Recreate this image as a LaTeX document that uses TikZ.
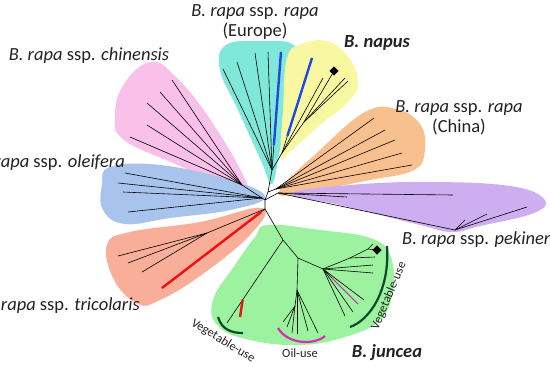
\documentclass[tikz,border=0pt]{standalone}
\usepackage{fontspec}
\setmainfont{Carlito}
\usetikzlibrary{calc}
\definecolor{cladecol1}{HTML}{F9C0E9}
\definecolor{cladecol2}{HTML}{80E8D8}
\definecolor{cladecol3}{HTML}{F8F7A2}
\definecolor{cladecol4}{HTML}{F8C08F}
\definecolor{cladecol5}{HTML}{CDAEF0}
\definecolor{cladecol6}{HTML}{A8C4EC}
\definecolor{cladecol7}{HTML}{F8AE98}
\definecolor{cladecol8}{HTML}{9CF29E}
\definecolor{markblue}{HTML}{2248E0}
\definecolor{markred}{HTML}{F01010}
\definecolor{markpink}{HTML}{D42FB4}
\definecolor{usegreen}{HTML}{0B4A2A}
\definecolor{txt}{HTML}{222222}

\begin{document}
\begin{tikzpicture}[x=1pt,y=-1pt,
  br/.style={line width=.6pt},
  hl/.style={line width=2.4pt},
  arcline/.style={line width=2.2pt},
  lab/.style={text=txt,font=\fontsize{18.5}{19.5}\selectfont,align=center,inner sep=0pt},
  bold/.style={text=txt,font=\fontsize{18.5}{20}\selectfont\bfseries\itshape,inner sep=0pt},
  small/.style={text=txt,font=\fontsize{12.5}{14}\selectfont,inner sep=0pt},
  tipmark/.style={fill=black,rotate=45,minimum size=6.5pt,inner sep=0pt}]
\useasboundingbox (0,0) rectangle (550,367);
\clip (0,0) rectangle (550,367);
% clade shades
\fill[cladecol1] plot[smooth cycle,tension=.7] coordinates {(150,62) (175,76) (212,122) (247,184) (238,193) (180,166) (124,140) (115,115) (124,84)};
\fill[cladecol2] plot[smooth cycle,tension=.7] coordinates {(226,45) (262,41) (292,44) (297,62) (290,105) (280,150) (272,184) (262,163) (238,110) (220,70)};
\fill[cladecol3] plot[smooth cycle,tension=.7] coordinates {(287,58) (302,44) (326,41) (347,55) (358,80) (350,100) (320,125) (292,150) (281,156) (283,110)};
\fill[cladecol4] plot[smooth cycle,tension=.7] coordinates {(279,192) (320,150) (365,112) (396,109) (420,124) (425,150) (414,170) (370,180) (310,191)};
\fill[cladecol5] plot[smooth cycle,tension=.7] coordinates {(290,194) (350,185) (430,182) (510,186) (544,199) (534,213) (480,226) (452,232) (420,225) (340,205)};
\fill[cladecol6] plot[smooth cycle,tension=.7] coordinates {(110,167) (160,165) (230,180) (265,197) (230,210) (170,218) (125,224) (103,210) (102,185)};
\fill[cladecol7] plot[smooth cycle,tension=.7] coordinates {(107,245) (130,232) (200,222) (262,208) (250,235) (200,276) (160,300) (138,304) (114,280)};
\fill[cladecol8] plot[smooth cycle,tension=.7] coordinates {(268,225) (320,230) (370,238) (390,255) (393,290) (380,320) (345,337) (300,345) (250,340) (218,326) (213,300) (235,265) (255,237)};
% tree
\coordinate (rt) at (265,200);
\coordinate (up) at (268,192);
\coordinate (cy) at (272,170);
\coordinate (ye) at (282,153);
\coordinate (ye2) at (304,122);
\coordinate (or) at (276,189);
\coordinate (pu) at (278,193);
\coordinate (pu2) at (347,197);
\coordinate (lf) at (262,198);
\coordinate (pk) at (242,185);
\coordinate (bt) at (265,209);
\coordinate (sa) at (207,233);
\coordinate (g1) at (283,240);
\coordinate (g2) at (227,323);
\coordinate (g3) at (298,258);
\coordinate (g4) at (297,290);
\coordinate (g4a) at (295,306);
\coordinate (g5) at (323,269);
\coordinate (g6) at (350,258);
\coordinate (g7) at (368,249);
\draw[br] (rt) -- (up) -- (cy) -- (ye) -- (ye2) (up) -- (or) (rt) -- (pu) -- (pu2)
  (rt) -- (lf) -- (pk) (rt) -- (bt) -- (sa) (bt) -- (g1) -- (g2) (g1) -- (g3) -- (g5) -- (g6) -- (g7)
  (g3) -- (g4) -- (g4a);
\foreach \x/\y [count=\i] in {223/69,237/62,255/53,268/52,281/52}{
  \coordinate (cy\i) at (\x,\y); \draw[br] (cy) -- (cy\i);}
\foreach \x/\y [count=\i] in {312/58,323/78}{
  \coordinate (yb\i) at (\x,\y); \draw[br] (ye) -- (yb\i);}
\foreach \x/\y [count=\i] in {334/71,345/78,348/81}{
  \coordinate (yf\i) at (\x,\y); \draw[br] (ye2) -- (yf\i);}
\foreach \x/\y [count=\i] in {374/118,385/130,395/140,402/153,412/165}{
  \coordinate (or\i) at (\x,\y); \draw[br] (or) -- (or\i);}
\foreach \x/\y [count=\i] in {453/195,455/230}{
  \coordinate (pu\i) at (\x,\y); \draw[br] (pu) -- (pu\i);}
\foreach \x/\y [count=\i] in {527/207,487/214,465/220}{
  \coordinate (pv\i) at (\x,\y); \draw[br] (pu2) -- (pv\i);}
\foreach \x/\y [count=\i] in {172/80,160/92,147/103,147/125,130/137}{
  \coordinate (pk\i) at (\x,\y); \draw[br] (pk) -- (pk\i);}
\foreach \x/\y [count=\i] in {125/173,118/183,123/192,128/212}{
  \coordinate (ol\i) at (\x,\y); \draw[br] (lf) -- (ol\i);}
\foreach \x/\y [count=\i] in {118/256,128/263,142/272}{
  \coordinate (sa\i) at (\x,\y); \draw[br] (sa) -- (sa\i);}
\coordinate (tr) at (162,288);
\draw[br] (bt) -- (tr);
\foreach \x/\y [count=\i] in {297/334,308/331,318/333}{
  \coordinate (oa\i) at (\x,\y); \draw[br] (g4) -- (oa\i);}
\foreach \x/\y [count=\i] in {283/322,287/327,292/333}{
  \coordinate (ob\i) at (\x,\y); \draw[br] (g4a) -- (ob\i);}
\foreach \x/\y [count=\i] in {345/316,353/312,358/304,364/300,373/273,373/265}{
  \coordinate (va\i) at (\x,\y); \draw[br] (g5) -- (va\i);}
\coordinate (vb1) at (375,257);
\coordinate (vb2) at (377,250);
\coordinate (vb3) at (373,244);
\draw[br] (g6) -- (vb1) (g7) -- (vb2) (g7) -- (vb3);
% highlighted tips
\draw[hl,markblue] ($(cy)!.21!(cy5)$) -- (cy5);
\draw[hl,markblue] ($(ye)!.18!(yb1)$) -- (yb1);
\draw[hl,markred] ($(bt)!.04!(tr)$) -- (tr);
\coordinate (rd) at ($(g1)!.72!(g2)$);
\coordinate (rd1) at (240,317);
\draw[hl,markred] (rd) -- (rd1);
\draw[line width=1pt,markpink] ($(g5)!.25!(va3)$) -- (va3);
\node[tipmark] (dm1) at (yf1) {};
\node[tipmark] (dm2) at (vb2) {};
% use groups
\draw[arcline,usegreen] (218,317) .. controls (222,330) and (232,333) .. (243,333);
\draw[arcline,markpink] (278,328) .. controls (288,345) and (315,345) .. (325,336);
\draw[arcline,usegreen] (387,246) .. controls (390,290) and (370,320) .. (350,327);
% labels
\node[lab] (eur) at (255,22) {\textit{B. rapa} ssp. \textit{rapa}\\(Europe)};
\node[bold] (nap) at (377,43) {B. napus};
\node[lab] (chn) at (459,118) {\textit{B. rapa} ssp. \textit{rapa}\\(China)};
\node[lab] (chi) at (89,56) {\textit{B. rapa} ssp. \textit{chinensis}};
\node[lab,anchor=east] (ole) at (125,163) {\textit{B. rapa} ssp. \textit{oleifera}};
\node[lab,anchor=east] (tri) at (140,306) {\textit{B. rapa} ssp. \textit{tricolaris}};
\node[lab,anchor=west] (pek) at (402,240) {\textit{B. rapa} ssp. \textit{pekinensis}};
\node[bold] (jun) at (387,353) {B. juncea};
\node[small] (oil) at (300,353) {Oil-use};
\node[small,rotate=-31] (veg1) at (223,341) {Vegetable-use};
\node[small,rotate=67] (veg2) at (389,296) {Vegetable-use};
\end{tikzpicture}
\end{document}
